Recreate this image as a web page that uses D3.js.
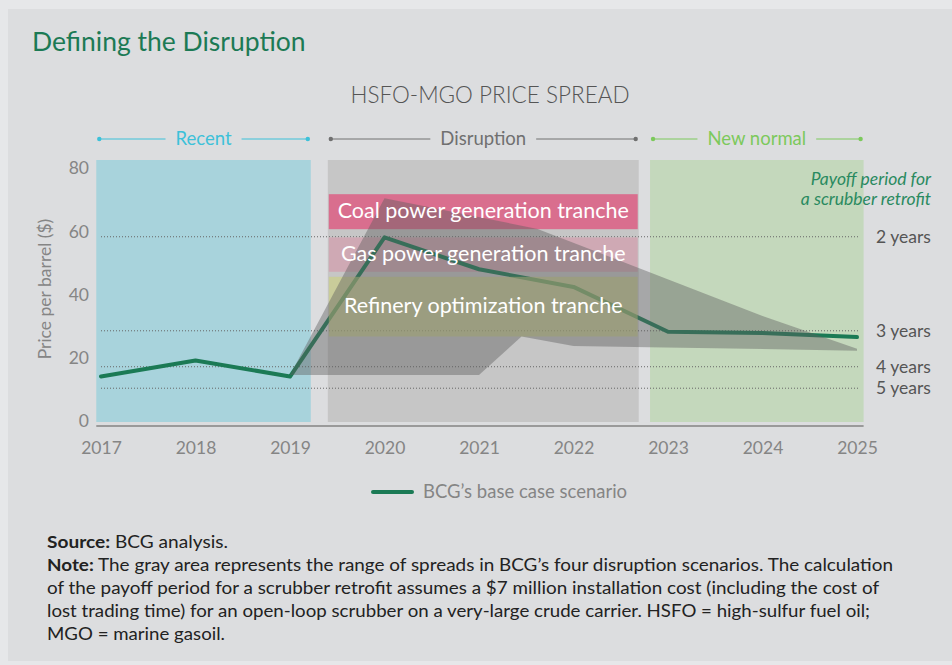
<!DOCTYPE html>
<html>
<head>
<meta charset="utf-8">
<script src="https://cdn.jsdelivr.net/npm/d3@7"></script>
<style>
  html, body { margin: 0; padding: 0; background: #e6e7e9; }
  svg { display: block; font-family: Lato, "Open Sans", sans-serif; }
</style>
</head>
<body>
<svg id="chart" width="952" height="665"></svg>
<script>
// ---------- data ----------
const years = [2017, 2018, 2019, 2020, 2021, 2022, 2023, 2024, 2025];
const baseCase = [14, 19.1, 14, 58.1, 48, 42.4, 28.2, 27.8, 26.5];

// gray range of the four disruption scenarios
const rangeUpperX = [2019, 2020, 2021.62, 2024, 2025];
const rangeUpper  = [14.5, 70.5, 60.8, 33.2, 22.8];
const rangeLowerX = [2019, 2021, 2021.45, 2022, 2022.8, 2025];
const rangeLower  = [14.5, 14.5, 26.7, 23.7, 23.3, 22.2];

const periodNames = ["Recent", "Disruption", "New normal"];
const periodStart = [2016.95, 2019.4, 2022.81];
const periodEnd   = [2019.22, 2022.69, 2025.07];

const trancheNames = ["Coal power generation tranche", "Gas power generation tranche", "Refinery optimization tranche"];
const trancheLow  = [60.7, 47.2, 26.7];
const trancheHigh = [71.8, 58.1, 45.6];

const payoffLabels = ["2 years", "3 years", "4 years", "5 years"];
const payoffValues = [58.3, 28.5, 17.1, 10.3];

const yTicks = [0, 20, 40, 60, 80];

// ---------- styles ----------
const periodColors = ["#a8d3dc", "#c6c6c6", "#c4d8bc"];
const periodTextColors = ["#3dc1d9", "#707070", "#7cc95c"];
const trancheColors = ["#d96e8e", "#cfa9b4", "#cbd07d"];
const trancheOpacity = [1, 1, 0.6];
const green = "#1b7a55";

const svg = d3.select("#chart");

// panel
svg.append("rect").attr("x", 8).attr("y", 9).attr("width", 944).attr("height", 652).attr("fill", "#dcdddf");

// title
svg.append("text").attr("x", 32).attr("y", 51).attr("fill", "#1c7a55")
  .style("font-size", "26.5px").text("Defining the Disruption");

svg.append("text").attr("x", 490).attr("y", 103).attr("text-anchor", "middle")
  .attr("fill", "#555").style("font-size", "22.5px").style("font-weight", 300)
  .text("HSFO-MGO PRICE SPREAD");

// scales
const x = d3.scaleLinear().domain([2017, 2025]).range([101, 857]);
const y = d3.scaleLinear().domain([0, 80]).range([420.7, 168.3]);

const rectTop = 160, rectBottom = 422;

// period rectangles
svg.append("g").selectAll("rect").data(periodNames).join("rect")
  .attr("x", (d, i) => x(periodStart[i]))
  .attr("width", (d, i) => x(periodEnd[i]) - x(periodStart[i]))
  .attr("y", rectTop).attr("height", rectBottom - rectTop)
  .attr("fill", (d, i) => periodColors[i]);

// period headers
const hy = 139;
const hdr = svg.append("g");
periodNames.forEach((name, i) => {
  const x0 = x(periodStart[i]) + 3, x1 = x(periodEnd[i]) - 3;
  const cx = (x(periodStart[i]) + x(periodEnd[i])) / 2;
  const t = hdr.append("text").attr("x", cx).attr("y", hy).attr("dy", "0.35em")
    .attr("text-anchor", "middle").attr("fill", periodTextColors[i])
    .style("font-size", "18.5px").text(name);
  const w = t.node().getComputedTextLength();
  const gap = 10;
  [[x0, cx - w / 2 - gap], [cx + w / 2 + gap, x1]].forEach(([a, b]) => {
    hdr.append("line").attr("x1", a).attr("x2", b).attr("y1", hy).attr("y2", hy)
      .attr("stroke", periodTextColors[i]).attr("stroke-width", 1);
  });
  [x0, x1].forEach(p => hdr.append("circle").attr("cx", p).attr("cy", hy).attr("r", 2.2).attr("fill", periodTextColors[i]));
});

// gridlines (payoff)
svg.append("g").selectAll("line").data(payoffValues).join("line")
  .attr("x1", x(2017)).attr("x2", x(2025) + 2)
  .attr("y1", d => y(d)).attr("y2", d => y(d))
  .attr("stroke", "#666").attr("stroke-width", 1).attr("stroke-dasharray", "1,2");

svg.append("g").selectAll("text").data(payoffLabels).join("text")
  .attr("x", 876).attr("y", (d, i) => y(payoffValues[i])).attr("dy", "0.35em")
  .attr("fill", "#555").style("font-size", "17.5px").text(d => d);

svg.append("text").attr("x", 931).attr("y", 185).attr("text-anchor", "end")
  .attr("fill", "#2a8a60").style("font-size", "17.5px").style("font-style", "italic")
  .text("Payoff period for");
svg.append("text").attr("x", 931).attr("y", 205).attr("text-anchor", "end")
  .attr("fill", "#2a8a60").style("font-size", "17.5px").style("font-style", "italic")
  .text("a scrubber retrofit");

// tranche bars (first two below line)
const trG = svg.append("g");
const drawTranche = (i, g) => {
  g.append("rect")
    .attr("x", x(periodStart[1]) + 1).attr("width", x(periodEnd[1]) - x(periodStart[1]) - 2)
    .attr("y", y(trancheHigh[i])).attr("height", y(trancheLow[i]) - y(trancheHigh[i]))
    .attr("fill", trancheColors[i]).attr("fill-opacity", trancheOpacity[i]);
};
drawTranche(0, trG);
drawTranche(1, trG);

// base case line
const line = d3.line().x(d => x(d[0])).y(d => y(d[1]));
svg.append("path").datum(years.map((yr, i) => [yr, baseCase[i]]))
  .attr("d", line).attr("fill", "none").attr("stroke", green)
  .attr("stroke-width", 4).attr("stroke-linejoin", "round").attr("stroke-linecap", "round");

drawTranche(2, svg.append("g"));

// gray range area
const upperPts = rangeUpperX.map((v, i) => [v, rangeUpper[i]]);
const lowerPts = rangeLowerX.map((v, i) => [v, rangeLower[i]]).reverse();
svg.append("path").datum(upperPts.concat(lowerPts))
  .attr("d", d3.line().x(d => x(d[0])).y(d => y(d[1])).curve(d3.curveLinearClosed))
  .attr("fill", "#5f5f5f").attr("fill-opacity", 0.43);

// tranche labels
svg.append("g").selectAll("text").data(trancheNames).join("text")
  .attr("x", (x(periodStart[1]) + x(periodEnd[1])) / 2)
  .attr("y", (d, i) => (y(trancheHigh[i]) + y(trancheLow[i])) / 2 - 1.5)
  .attr("dy", "0.35em").attr("text-anchor", "middle").attr("fill", "#fff")
  .style("font-size", "21.5px").text(d => d);

// x baseline
svg.append("line").attr("x1", x(periodStart[0])).attr("x2", x(periodEnd[2]))
  .attr("y1", 426).attr("y2", 426).attr("stroke", "#9a9a9a").attr("stroke-width", 2);

// axes
const xAxis = svg.append("g").attr("transform", "translate(0,426)")
  .call(d3.axisBottom(x).tickValues(years).tickFormat(d3.format("d")).tickSize(0).tickPadding(16));
xAxis.select(".domain").remove();
xAxis.selectAll("text").attr("fill", "#858585").style("font-size", "17.5px").style("font-family", "Lato");

const yAxis = svg.append("g").attr("transform", "translate(96,0)")
  .call(d3.axisLeft(y).tickValues(yTicks).tickSize(0).tickPadding(7));
yAxis.select(".domain").remove();
yAxis.selectAll("text").attr("fill", "#858585").style("font-size", "17.5px").style("font-family", "Lato");

svg.append("text").attr("transform", "translate(51,289) rotate(-90)")
  .attr("text-anchor", "middle").attr("fill", "#858585")
  .style("font-size", "17.5px").text("Price per barrel ($)");

// legend
svg.append("line").attr("x1", 373).attr("x2", 412).attr("y1", 492).attr("y2", 492)
  .attr("stroke", green).attr("stroke-width", 4).attr("stroke-linecap", "round");
svg.append("text").attr("x", 423).attr("y", 492).attr("dy", "0.35em")
  .attr("fill", "#858585").style("font-size", "18.5px").text("BCG’s base case scenario");

// notes
const notes = [
  [["Source:", true], [" BCG analysis.", false]],
  [["Note:", true], [" The gray area represents the range of spreads in BCG’s four disruption scenarios. The calculation", false]],
  [["of the payoff period for a scrubber retrofit assumes a $7 million installation cost (including the cost of", false]],
  [["lost trading time) for an open-loop scrubber on a very-large crude carrier. HSFO = high-sulfur fuel oil;", false]],
  [["MGO = marine gasoil.", false]]
];
const noteWidths = [181, 846, 832, 823, 178];
const ng = svg.append("g");
notes.forEach((parts, i) => {
  const t = ng.append("text").attr("x", 47).attr("y", 541.5 + i * 23).attr("dy", "0.35em")
    .attr("fill", "#222").style("font-size", "17.5px");
  parts.forEach(([s, b]) => t.append("tspan").style("font-weight", b ? 700 : 400).text(s));
  t.attr("textLength", noteWidths[i]).attr("lengthAdjust", "spacingAndGlyphs");
});
</script>
</body>
</html>
